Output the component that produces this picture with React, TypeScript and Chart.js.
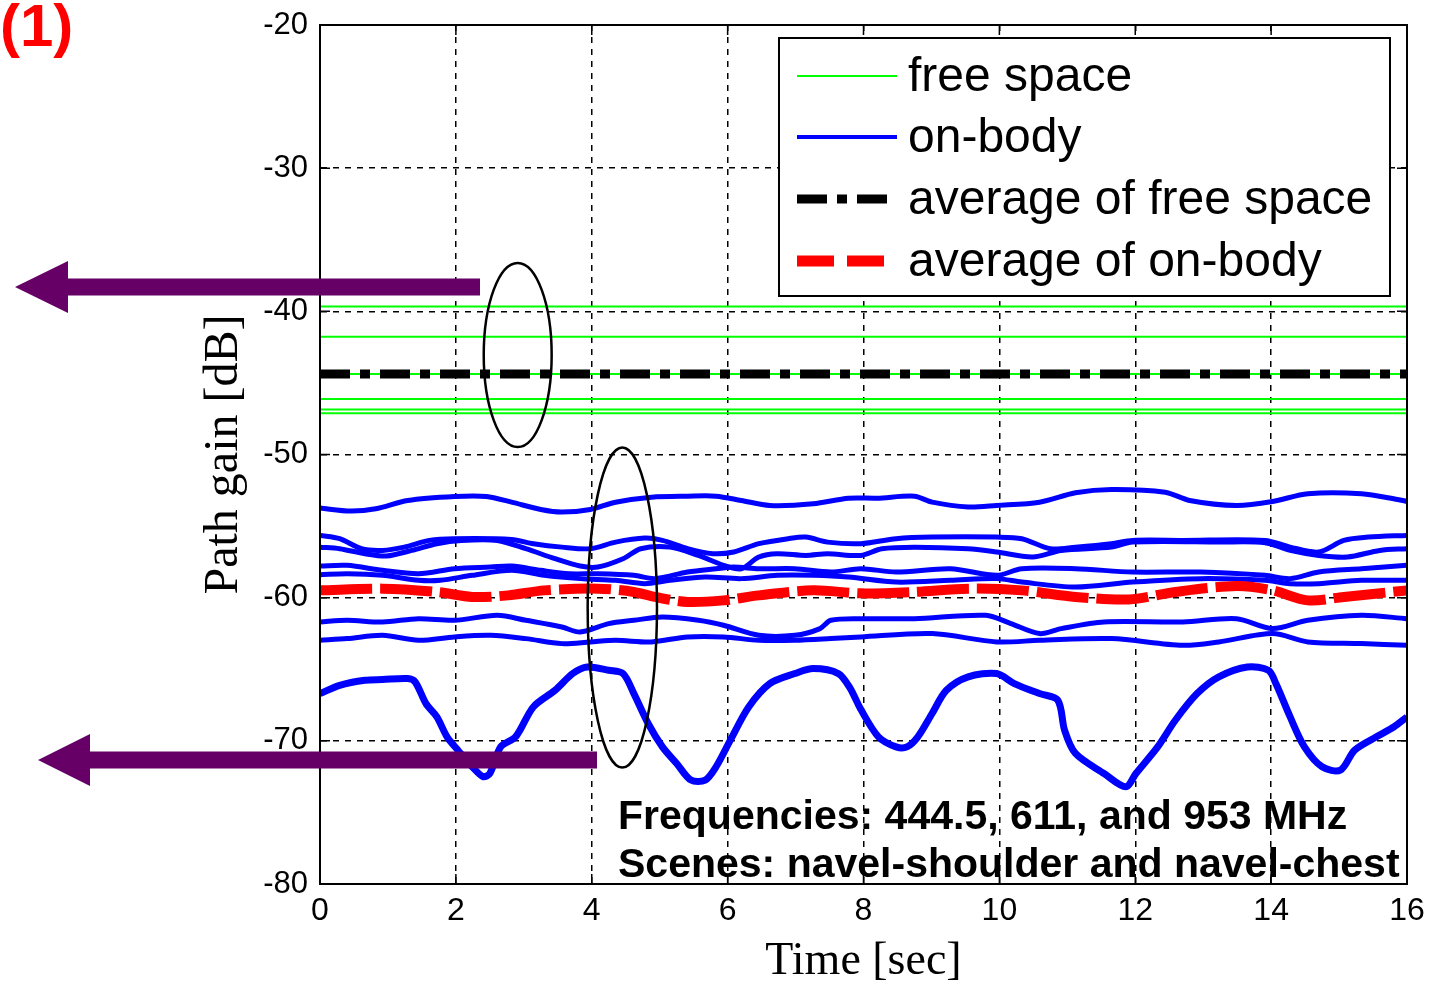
import React, { useEffect, useRef } from "react";
import { Chart, registerables } from "chart.js";

Chart.register(...registerables);

// ---------------- data ----------------
const timeRange = [0, 16];
const xTickValues = [0, 2, 4, 6, 8, 10, 12, 14, 16];
const yTickValues = [-80, -70, -60, -50, -40, -30, -20];

// six free-space measurements (flat over time)
const freeSpaceLevels = [-39.67, -41.77, -44.37, -46.12, -46.86, -47.12];
const freeSpaceAverage = -44.37;

type P = [number, number];

const onBody1: P[] = [[0,-53.74],[0.45,-53.95],[0.82,-53.79],[1.29,-53.21],[1.98,-52.93],[2.45,-52.93],[2.82,-53.33],[3.25,-53.84],[3.56,-54.02],[3.98,-53.84],[4.35,-53.33],[4.88,-52.98],[5.41,-52.91],[5.83,-52.91],[6.2,-53.21],[6.62,-53.56],[7.26,-53.44],[7.78,-53.05],[8.2,-53.05],[8.75,-52.91],[9.01,-53.33],[9.54,-53.67],[9.96,-53.56],[10.59,-53.33],[11.12,-52.67],[11.65,-52.44],[12.44,-52.63],[12.8,-53.21],[13.49,-53.56],[14.02,-53.28],[14.54,-52.74],[15.33,-52.74],[15.86,-53.14],[16,-53.28]];

const onBody2: P[] = [[0,-55.65],[0.29,-55.88],[0.61,-56.58],[0.92,-56.7],[1.24,-56.47],[1.61,-56.0],[1.98,-55.88],[2.82,-55.93],[3.14,-56.23],[3.56,-56.47],[3.98,-56.58],[4.35,-56.12],[4.78,-55.84],[5.04,-56.0],[5.41,-56.58],[5.78,-56.93],[6.09,-56.81],[6.46,-56.23],[6.89,-55.88],[7.15,-55.77],[7.47,-56.12],[7.96,-56.23],[8.48,-55.88],[9.01,-55.77],[9.96,-55.77],[10.33,-55.88],[10.75,-56.58],[11.12,-56.47],[11.65,-56.23],[11.96,-56.0],[12.7,-56.0],[13.91,-56.0],[14.28,-56.47],[14.7,-56.81],[15.07,-56.0],[15.43,-55.77],[16,-55.65]];

const onBody3: P[] = [[0,-56.47],[0.29,-56.58],[0.66,-56.93],[0.98,-57.09],[1.35,-56.7],[1.72,-56.23],[2.08,-56.0],[2.61,-56.0],[3.03,-56.58],[3.46,-57.28],[3.83,-57.79],[4.09,-57.86],[4.46,-57.28],[4.72,-56.58],[5.15,-56.47],[5.57,-57.05],[5.94,-57.74],[6.2,-57.98],[6.46,-57.16],[6.73,-56.93],[7.15,-57.05],[7.47,-56.93],[7.96,-57.05],[8.27,-56.58],[8.75,-56.47],[9.54,-56.58],[9.96,-56.81],[10.49,-57.16],[10.91,-56.7],[11.65,-56.47],[11.96,-56.12],[13.23,-56.12],[13.91,-56.16],[14.28,-56.7],[14.7,-57.05],[15.12,-57.16],[15.6,-56.7],[16,-56.58]];

const onBody4: P[] = [[0,-57.79],[0.4,-57.74],[0.92,-58.09],[1.45,-58.33],[1.98,-57.98],[2.51,-57.86],[2.82,-57.79],[3.25,-58.09],[3.67,-58.33],[4.09,-58.33],[4.62,-58.44],[4.93,-58.67],[5.41,-58.21],[5.83,-57.98],[6.09,-57.86],[6.46,-57.98],[6.99,-57.98],[7.52,-58.21],[7.96,-57.98],[8.48,-58.21],[9.28,-57.98],[9.96,-58.44],[10.33,-57.98],[11.12,-57.98],[11.96,-58.21],[12.96,-58.21],[13.91,-58.44],[14.28,-58.67],[14.7,-58.21],[15.33,-57.98],[16,-57.74]];

const onBody5: P[] = [[0,-58.4],[0.4,-58.33],[0.92,-58.44],[1.45,-58.79],[1.77,-58.79],[2.24,-58.44],[2.82,-58.09],[3.3,-58.44],[3.83,-58.67],[4.35,-58.79],[4.78,-59.02],[5.15,-58.79],[5.67,-58.56],[6.2,-58.67],[6.73,-58.44],[7.26,-58.44],[7.78,-58.56],[8.48,-58.91],[9.28,-58.79],[9.96,-58.67],[10.33,-58.91],[11.12,-59.26],[11.96,-58.91],[12.96,-58.67],[13.91,-58.79],[14.28,-59.02],[14.7,-59.02],[15.33,-58.79],[16,-58.79]];

const onBody6: P[] = [[0,-61.7],[0.4,-61.58],[0.92,-61.7],[1.45,-61.47],[1.98,-61.58],[2.61,-61.23],[3.03,-61.58],[3.56,-62.05],[3.83,-62.4],[4.25,-61.81],[4.62,-61.58],[5.04,-61.35],[5.57,-61.58],[5.94,-61.93],[6.46,-62.63],[6.99,-62.63],[7.36,-62.16],[7.52,-61.58],[7.96,-61.47],[8.75,-61.47],[9.8,-61.23],[10.17,-61.81],[10.59,-62.51],[10.91,-62.16],[11.54,-61.7],[12.7,-61.7],[13.49,-61.47],[14.02,-62.16],[14.54,-61.58],[15.33,-61.23],[16,-61.47]];

const onBody7: P[] = [[0,-62.98],[0.4,-62.86],[0.92,-62.63],[1.45,-62.98],[1.98,-62.74],[2.51,-62.63],[3.03,-62.86],[3.56,-63.21],[3.98,-63.09],[4.35,-62.98],[4.88,-63.09],[5.41,-62.74],[5.94,-62.74],[6.46,-62.98],[6.99,-62.98],[7.52,-62.86],[7.96,-62.74],[9.01,-62.51],[9.96,-63.09],[10.59,-62.98],[11.65,-62.86],[12.7,-63.33],[13.23,-63.09],[14.02,-62.51],[14.54,-63.09],[15.33,-63.21],[16,-63.33]];

const onBody8: P[] = [[0,-66.7],[0.29,-66.12],[0.66,-65.77],[0.92,-65.72],[1.29,-65.65],[1.4,-65.88],[1.56,-67.4],[1.72,-68.33],[1.87,-69.72],[2.03,-70.65],[2.24,-71.81],[2.4,-72.5],[2.5,-72.28],[2.66,-70.42],[2.88,-69.72],[3.14,-67.63],[3.46,-66.47],[3.72,-65.3],[3.93,-64.84],[4.25,-65.07],[4.46,-65.3],[4.62,-66.7],[4.83,-68.79],[5.04,-70.42],[5.25,-71.58],[5.46,-72.74],[5.67,-72.74],[5.83,-71.81],[6.04,-69.95],[6.31,-67.63],[6.62,-66.0],[6.99,-65.3],[7.26,-64.95],[7.63,-65.3],[7.8,-66.3],[7.96,-67.8],[8.22,-69.72],[8.48,-70.42],[8.64,-70.42],[8.8,-69.72],[9.01,-68.09],[9.22,-66.47],[9.54,-65.53],[9.96,-65.3],[10.22,-66.0],[10.59,-66.7],[10.86,-67.16],[10.96,-69.26],[11.12,-70.88],[11.54,-72.28],[11.86,-73.21],[12.01,-72.28],[12.33,-70.42],[12.59,-68.56],[12.91,-66.7],[13.23,-65.53],[13.65,-64.84],[13.96,-65.07],[14.07,-66.0],[14.28,-68.33],[14.49,-70.42],[14.75,-71.81],[15.02,-72.05],[15.23,-70.65],[15.55,-69.72],[15.81,-69.02],[16,-68.33]];

const onBodyAverage: P[] = [[0,-59.49],[0.92,-59.37],[1.72,-59.6],[2.24,-59.95],[2.77,-59.84],[3.3,-59.49],[4.09,-59.37],[4.62,-59.6],[4.93,-59.95],[5.41,-60.3],[5.94,-60.19],[6.46,-59.84],[7.26,-59.49],[7.96,-59.7],[8.75,-59.6],[9.54,-59.37],[10.33,-59.49],[11.12,-59.95],[11.91,-60.12],[12.59,-59.6],[13.49,-59.19],[14.02,-59.49],[14.54,-60.19],[15.07,-59.95],[16,-59.49]];

const onBodySeries = [onBody1, onBody2, onBody3, onBody4, onBody5, onBody6, onBody7, onBody8];

const legendLabels = ["free space", "on-body", "average of free space", "average of on-body"];
const noteLines = ["Frequencies: 444.5, 611, and 953 MHz", "Scenes: navel-shoulder and navel-chest"];
const panelLabel = "(1)";
const xTitle = "Time [sec]";
const yTitle = "Path gain [dB]";

// ---------------- styles ----------------
const SANS = '"Liberation Sans", Arial, Helvetica, sans-serif';
const SERIF = '"Liberation Serif", "Times New Roman", Times, serif';
const GREEN = "#00ff00";
const BLUE = "#0000ff";
const RED = "#ff0000";
const PURPLE = "#660066";
const DASH_DOT = [30, 10, 10, 10];
const DASHED = [52, 8];

const W = 1430;
const H = 985;

const toXY = (pts: P[]) => pts.map(([x, y]) => ({ x, y }));

function buildDatasets() {
  const ds: any[] = [];
  ds.push({
    label: "average of on-body",
    data: toXY(onBodyAverage),
    borderColor: RED,
    borderWidth: 10,
    borderDash: DASHED,
    tension: 0.3,
    order: 0,
  });
  ds.push({
    label: "average of free space",
    data: timeRange.map((x) => ({ x, y: freeSpaceAverage })),
    borderColor: "#000000",
    borderWidth: 9,
    borderDash: DASH_DOT,
    order: 1,
  });
  onBodySeries.forEach((s, i) => {
    ds.push({
      label: "on-body " + (i + 1),
      data: toXY(s),
      borderColor: BLUE,
      borderWidth: i === 7 ? 7 : 5,
      tension: 0.3,
      order: 2,
    });
  });
  freeSpaceLevels.forEach((v, i) => {
    ds.push({
      label: "free space " + (i + 1),
      data: timeRange.map((x) => ({ x, y: v })),
      borderColor: GREEN,
      borderWidth: 2,
      order: 3,
    });
  });
  return ds;
}

const legendStyles = [
  { color: GREEN, width: 2, dash: [] as number[], len: 100 },
  { color: BLUE, width: 4, dash: [] as number[], len: 100 },
  { color: "#000000", width: 9, dash: DASH_DOT, len: 91 },
  { color: RED, width: 11, dash: [37, 13], len: 87 },
];

const framePlugin = {
  id: "frame",
  afterDatasetsDraw(chart: any) {
    const { ctx, chartArea: a, scales } = chart;
    ctx.save();
    // plot frame
    ctx.strokeStyle = "#000";
    ctx.lineWidth = 2;
    ctx.setLineDash([]);
    ctx.strokeRect(a.left, a.top, a.right - a.left, a.bottom - a.top);
    // inward ticks
    ctx.lineWidth = 1.5;
    xTickValues.forEach((v) => {
      const px = scales.x.getPixelForValue(v);
      ctx.beginPath();
      ctx.moveTo(px, a.bottom);
      ctx.lineTo(px, a.bottom - 10);
      ctx.moveTo(px, a.top);
      ctx.lineTo(px, a.top + 10);
      ctx.stroke();
    });
    yTickValues.forEach((v) => {
      const py = scales.y.getPixelForValue(v);
      ctx.beginPath();
      ctx.moveTo(a.left, py);
      ctx.lineTo(a.left + 10, py);
      ctx.moveTo(a.right, py);
      ctx.lineTo(a.right - 10, py);
      ctx.stroke();
    });

    // legend box
    const bx = a.right - 628, by = a.top + 13, bw = 611, bh = 258;
    ctx.fillStyle = "#fff";
    ctx.fillRect(bx, by, bw, bh);
    ctx.lineWidth = 2;
    ctx.strokeStyle = "#000";
    ctx.strokeRect(bx, by, bw, bh);
    const rowY = [76, 137, 199, 261];
    legendLabels.forEach((lab, i) => {
      const st = legendStyles[i];
      const y = rowY[i];
      ctx.beginPath();
      ctx.strokeStyle = st.color;
      ctx.lineWidth = st.width;
      ctx.setLineDash(st.dash);
      ctx.lineCap = "butt";
      ctx.moveTo(bx + 18, y);
      ctx.lineTo(bx + 18 + st.len, y);
      ctx.stroke();
      ctx.setLineDash([]);
      ctx.fillStyle = "#000";
      ctx.font = `48px ${SANS}`;
      ctx.textBaseline = "middle";
      ctx.textAlign = "left";
      ctx.fillText(lab, bx + 129, y + 2);
    });
    ctx.restore();
  },
  afterDraw(chart: any) {
    const { ctx, scales } = chart;
    const xs = scales.x, ys = scales.y;
    ctx.save();
    // ellipses (data coordinates)
    const ell = [
      { t: 2.91, v: -43.05, dt: 0.5, dv: 6.43 },
      { t: 4.45, v: -60.69, dt: 0.51, dv: 11.18 },
    ];
    ctx.strokeStyle = "#000";
    ctx.lineWidth = 2.5;
    ell.forEach((e) => {
      const cx = xs.getPixelForValue(e.t);
      const cy = ys.getPixelForValue(e.v);
      const rx = xs.getPixelForValue(e.t + e.dt) - cx;
      const ry = ys.getPixelForValue(e.v - e.dv) - cy;
      ctx.beginPath();
      ctx.ellipse(cx, cy, rx, ry, 0, 0, Math.PI * 2);
      ctx.stroke();
    });
    // arrows
    const arrows = [
      { tail: 480, tip: 15, y: 287, head: 53, half: 26, thick: 17 },
      { tail: 597, tip: 38, y: 760, head: 52, half: 26, thick: 17 },
    ];
    ctx.fillStyle = PURPLE;
    arrows.forEach((ar) => {
      ctx.fillRect(ar.tip + ar.head - 1, ar.y - ar.thick / 2, ar.tail - ar.tip - ar.head + 1, ar.thick);
      ctx.beginPath();
      ctx.moveTo(ar.tip, ar.y);
      ctx.lineTo(ar.tip + ar.head, ar.y - ar.half);
      ctx.lineTo(ar.tip + ar.head, ar.y + ar.half);
      ctx.closePath();
      ctx.fill();
    });
    // notes
    ctx.fillStyle = "#000";
    ctx.font = `bold 41px ${SANS}`;
    ctx.textAlign = "left";
    ctx.textBaseline = "alphabetic";
    ctx.fillText(noteLines[0], 618, 829);
    ctx.fillText(noteLines[1], 618, 877);
    // panel label
    ctx.fillStyle = RED;
    ctx.font = `bold 60px ${SANS}`;
    ctx.fillText(panelLabel, 0, 46);
    ctx.restore();
  },
};

export default function App() {
  const ref = useRef<HTMLCanvasElement | null>(null);
  useEffect(() => {
    const canvas = ref.current;
    if (!canvas) return;
    const chart = new Chart(canvas, {
      type: "line",
      data: { datasets: buildDatasets() },
      plugins: [framePlugin],
      options: {
        responsive: false,
        animation: false,
        devicePixelRatio: 1,
        events: [],
        layout: { padding: { left: 0, right: 23, top: 25, bottom: 0 }, autoPadding: false },
        elements: { point: { radius: 0 }, line: { borderCapStyle: "butt", fill: false } },
        plugins: { legend: { display: false }, tooltip: { enabled: false } },
        scales: {
          x: {
            type: "linear",
            min: 0,
            max: 16,
            afterFit: (s: any) => { s.height = 101; s.paddingLeft = 0; s.paddingRight = 0; },
            afterBuildTicks: (s: any) => { s.ticks = xTickValues.map((v) => ({ value: v })); },
            grid: { color: "#000", lineWidth: 1.5, drawTicks: false },
            border: { display: true, color: "#000", width: 2, dash: [6, 6] },
            ticks: { color: "#000", font: { family: SANS, size: 32 }, padding: 8, maxRotation: 0 },
            title: { display: true, text: xTitle, color: "#000", font: { family: SERIF, size: 46, lineHeight: 1 }, padding: { top: 0, bottom: 0 } },
          },
          y: {
            type: "linear",
            min: -80,
            max: -20,
            afterFit: (s: any) => { s.width = 320; s.paddingTop = 0; s.paddingBottom = 0; },
            afterBuildTicks: (s: any) => { s.ticks = yTickValues.map((v) => ({ value: v })); },
            grid: { color: "#000", lineWidth: 1.5, drawTicks: false },
            border: { display: true, color: "#000", width: 2, dash: [6, 6] },
            ticks: { color: "#000", font: { family: SANS, size: 31 }, padding: 12 },
            title: { display: true, text: yTitle, color: "#000", font: { family: SERIF, size: 48, lineHeight: 1 }, padding: { top: 200, bottom: 0 } },
          },
        },
      } as any,
    });
    return () => chart.destroy();
  }, []);
  return (
    <div style={{ position: "fixed", left: 0, top: 0, width: W, height: H, background: "#fff" }}>
      <canvas ref={ref} width={W} height={H} style={{ display: "block", width: W, height: H }} />
    </div>
  );
}
